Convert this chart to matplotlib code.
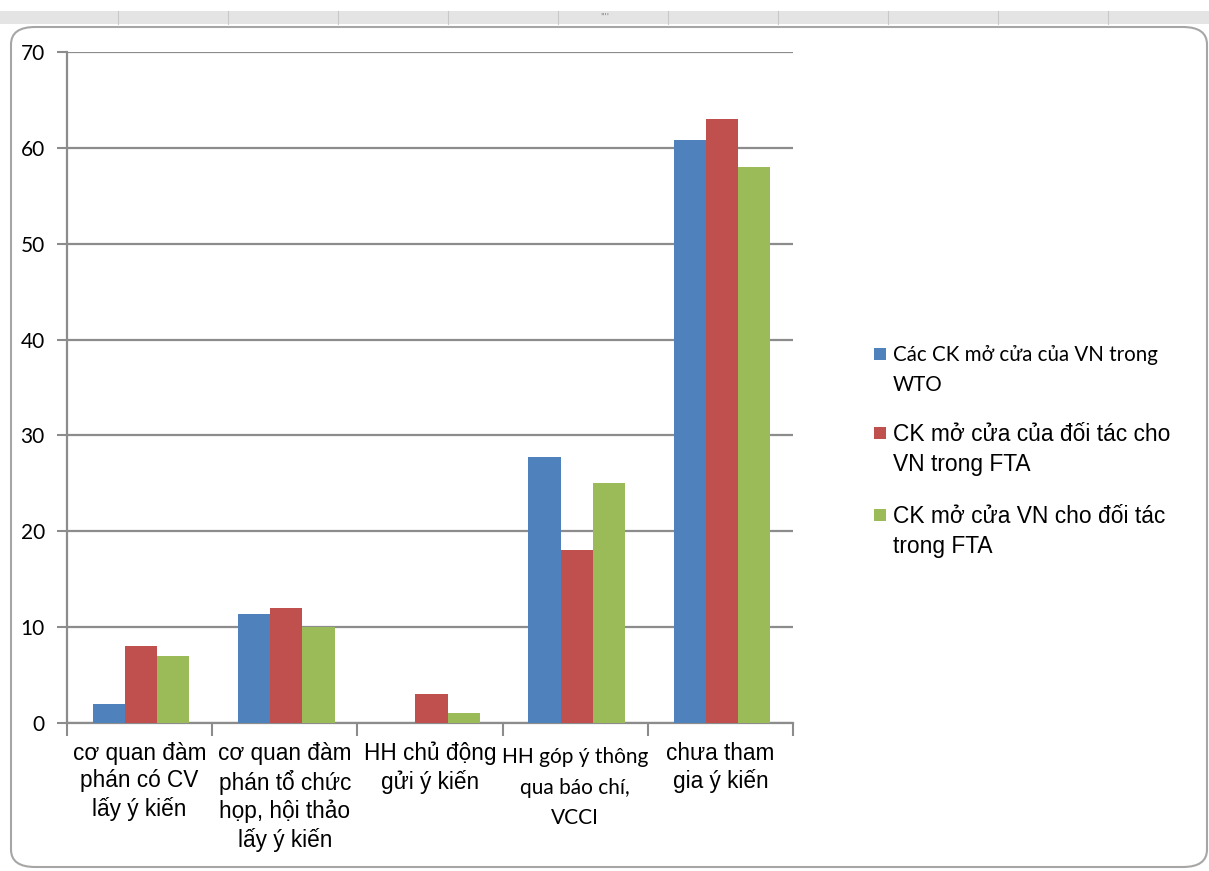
import matplotlib
matplotlib.use("Agg")
import matplotlib.pyplot as plt
from matplotlib.patches import Rectangle, FancyBboxPatch
from matplotlib.lines import Line2D
import numpy as np

categories = [
    "cơ quan đàm\nphán có CV\nlấy ý kiến",
    "cơ quan đàm\nphán tổ chức\nhọp, hội thảo\nlấy ý kiến",
    "HH chủ động\ngửi ý kiến",
    "HH góp ý thông\nqua báo chí,\nVCCI",
    "chưa tham\ngia ý kiến",
]
series_names = [
    "Các CK mở cửa của VN trong\nWTO",
    "CK mở cửa của đối tác cho\nVN trong FTA",
    "CK mở cửa VN cho đối tác\ntrong FTA",
]
wto = [2, 11.4, 0, 27.8, 60.8]
partner_fta = [8, 12, 3, 18, 63]
vn_fta = [7, 10, 1, 25, 58]
yticks = [0, 10, 20, 30, 40, 50, 60, 70]

colors = ["#4F81BD", "#C0504D", "#9BBB59"]
W, H = 1209, 871
fig = plt.figure(figsize=(W / 100, H / 100), dpi=100)

# Excel-like top strip and rounded chart border
fig.patches.append(Rectangle((0, 1 - 24 / H), 1, 13 / H, transform=fig.transFigure,
                             facecolor="#E4E4E4", edgecolor="none", zorder=-2))
for xs in [118, 228, 338, 448, 558, 668, 778, 888, 998, 1108]:
    fig.lines.append(Line2D([xs / W, xs / W], [1 - 24 / H, 1 - 11 / H], transform=fig.transFigure,
                            color="#C8C8C8", lw=0.8, zorder=-1))
fig.text(605 / W, 1 - 17 / H, "''''", fontsize=6, color="#888888", ha="center", va="center")
fig.patches.append(FancyBboxPatch((11 / W, 4 / H), (1196) / W, (840) / H,
                                  boxstyle="round,pad=0,rounding_size=0.02",
                                  transform=fig.transFigure, facecolor="none",
                                  edgecolor="#A6A6A6", lw=1.5, zorder=5))

ax = fig.add_axes([67 / W, 1 - 723 / H, (793 - 67) / W, (723 - 52) / H])
ax.set_facecolor("none")
x = np.arange(len(categories))
bw = 0.222
for i, vals in enumerate([wto, partner_fta, vn_fta]):
    ax.bar(x + (i - 1) * bw + 0.01, vals, width=bw, color=colors[i], zorder=3)

ax.set_xlim(-0.5, len(categories) - 0.5)
ax.set_ylim(0, 70)
ax.set_yticks(yticks)
ax.set_yticklabels([str(v) for v in yticks], fontfamily="Lato", fontsize=15)
ax.yaxis.grid(True, color="#8C8C8C", lw=1.6, zorder=1)
ax.set_axisbelow(True)
for s in ["top", "right"]:
    ax.spines[s].set_visible(False)
for s in ["left", "bottom"]:
    ax.spines[s].set_color("#8C8C8C")
    ax.spines[s].set_linewidth(1.6)
ax.tick_params(axis="y", length=7, width=1.5, color="#8C8C8C", pad=9, labelcolor="black")
ax.set_xticks(np.arange(-0.5, len(categories), 1.0))
ax.set_xticklabels([])
ax.tick_params(axis="x", length=9, width=1.5, color="#8C8C8C")

for i, lab in enumerate(categories):
    if i == 3:
        ax.text(i, -2.55, lab, ha="center", va="top", fontfamily="Lato", fontsize=15,
                linespacing=1.63, transform=ax.transData)
    else:
        ax.text(i, -1.95, lab, ha="center", va="top", fontfamily="Liberation Sans", fontsize=16.3,
                linespacing=1.25, transform=ax.transData)

# Legend drawn manually (Excel style, marker aligned with first line)
leg_y = [354, 433, 515]
fonts = [("Lato", 14.8, 1.6), ("Liberation Sans", 16.4, 1.4), ("Liberation Sans", 16.4, 1.4)]
offs = [-9, -10, -10]
for i, name in enumerate(series_names):
    y = leg_y[i]
    fig.patches.append(Rectangle((874 / W, 1 - (y + 6) / H), 12 / W, 12 / H,
                                 transform=fig.transFigure, facecolor=colors[i], edgecolor="none"))
    fig.text(893 / W, 1 - (y + offs[i]) / H, name, ha="left", va="top", fontfamily=fonts[i][0],
             fontsize=fonts[i][1], linespacing=fonts[i][2])

fig.savefig("out.png", dpi=100)
